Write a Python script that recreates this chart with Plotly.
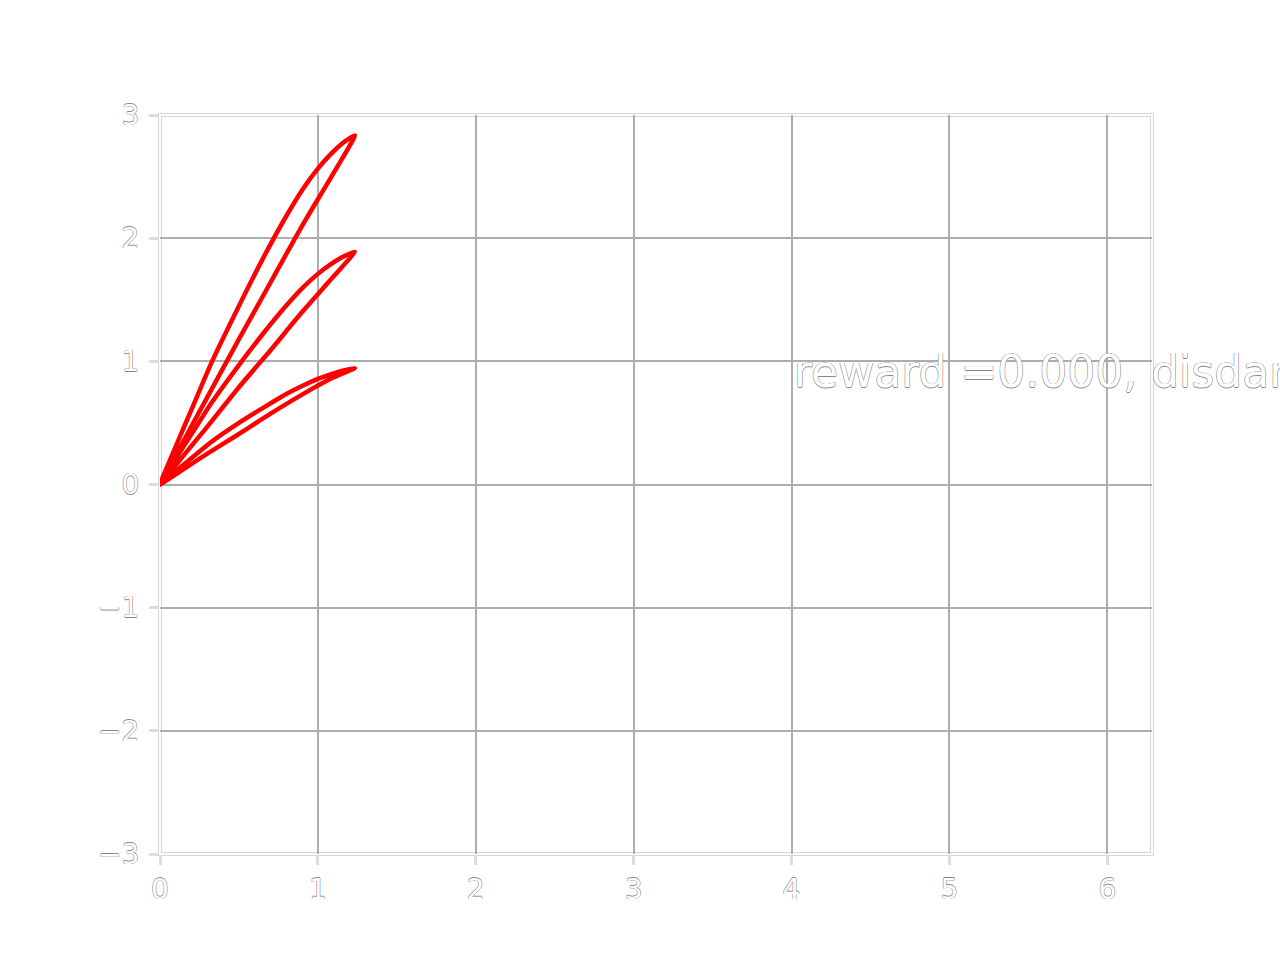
import plotly.graph_objects as go

# petal loops: origin -> upper curve -> tip -> lower curve -> origin
up_x = [0.0, 0.10, 0.20, 0.33, 0.50, 0.65, 0.80, 0.90, 1.00, 1.08, 1.15, 1.20, 1.234]
lo_x = [1.234, 1.10, 0.90, 0.70, 0.50, 0.30, 0.15, 0.0]

top_up = [0.0, 0.31, 0.61, 1.00, 1.45, 1.83, 2.18, 2.39, 2.565, 2.68, 2.765, 2.81, 2.835]
top_lo = [2.835, 2.53, 2.10, 1.64, 1.18, 0.71, 0.355, 0.0]

mid_up = [0.0, 0.21, 0.41, 0.67, 0.97, 1.22, 1.453, 1.593, 1.71, 1.787, 1.843, 1.873, 1.89]
mid_lo = [1.89, 1.69, 1.40, 1.09, 0.79, 0.47, 0.237, 0.0]

low_up = [0.0, 0.11, 0.215, 0.35, 0.50, 0.62, 0.735, 0.80, 0.857, 0.895, 0.923, 0.937, 0.945]
low_lo = [0.945, 0.87, 0.73, 0.575, 0.41, 0.25, 0.125, 0.0]

x_ticks = [0, 1, 2, 3, 4, 5, 6]
y_ticks = [-3, -2, -1, 0, 1, 2, 3]
x_range = [0, 6.2832]
y_range = [-3, 3]

label_text = "reward =0.000, disdance"
label_x = 4.0
label_y = 0.92

outline = "-0.5px 0 #8a8a8a, 0.5px 0 #8a8a8a, 0 0.5px #8a8a8a, 0 -0.5px #8a8a8a"
tick_font = dict(family="DejaVu Sans", size=28, color="white", shadow=outline)

fig = go.Figure()
for up, lo in [(top_up, top_lo), (mid_up, mid_lo), (low_up, low_lo)]:
    fig.add_trace(go.Scatter(
        x=up_x + lo_x[1:], y=up + lo[1:],
        mode="lines",
        line=dict(color="red", width=4.5, shape="spline", smoothing=0.7),
        showlegend=False, hoverinfo="skip",
    ))

fig.add_annotation(
    x=label_x, y=label_y, xref="x", yref="y",
    text=label_text, showarrow=False,
    xanchor="left", yanchor="middle",
    font=dict(family="DejaVu Sans", size=44, color="white", shadow=outline),
)

# white spines with a light grey edge
fig.add_shape(type="rect", xref="paper", yref="paper", x0=0, y0=0, x1=1, y1=1,
              line=dict(color="#d6d6d6", width=4), layer="between")
fig.add_shape(type="rect", xref="paper", yref="paper", x0=0, y0=0, x1=1, y1=1,
              line=dict(color="white", width=2), layer="between")

axis_common = dict(
    showgrid=True, gridcolor="#adadad", gridwidth=2,
    zeroline=False, showline=False,
    ticks="outside", ticklen=10, tickwidth=3, tickcolor="#dcdcdc",
    tickfont=tick_font,
)

fig.update_layout(
    width=1280, height=960,
    margin=dict(l=160, r=128, t=115, b=106, pad=0),
    paper_bgcolor="white", plot_bgcolor="white",
    xaxis=dict(range=x_range, tickvals=x_ticks, ticklabelstandoff=0, **axis_common),
    yaxis=dict(range=y_range, tickvals=y_ticks, ticklabelstandoff=4, **axis_common),
)

fig.write_html("out.html", config={"displayModeBar": False},
               post_script="document.body.style.margin='0';")
